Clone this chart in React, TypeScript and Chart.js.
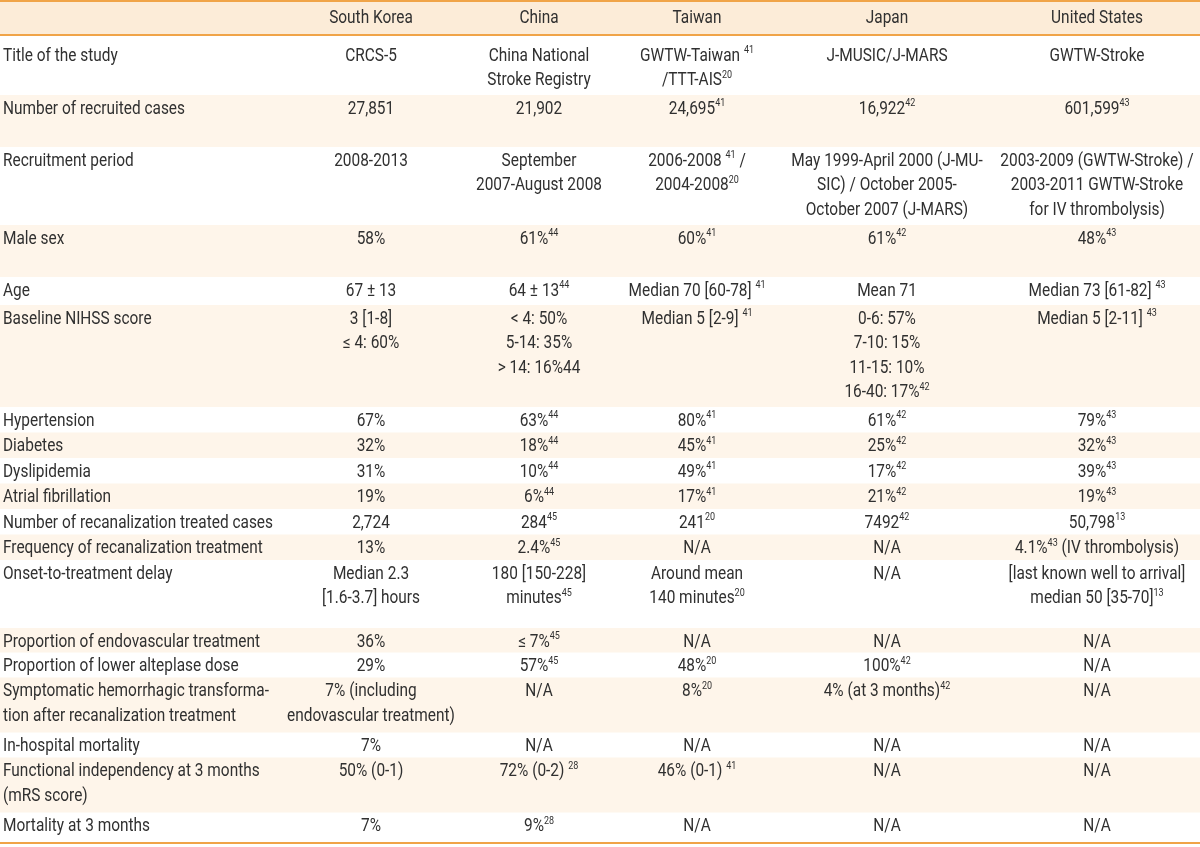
import React, { useEffect, useRef } from 'react';
import { Chart, registerables } from 'chart.js';
Chart.register(...registerables);

// ---------- DATA ----------
const countries = ['South Korea', 'China', 'Taiwan', 'Japan', 'United States'];

const rowLabels: (string | string[])[] = [
  'Title of the study',
  'Number of recruited cases',
  'Recruitment period',
  'Male sex',
  'Age',
  'Baseline NIHSS score',
  'Hypertension',
  'Diabetes',
  'Dyslipidemia',
  'Atrial fibrillation',
  'Number of recanalization treated cases',
  'Frequency of recanalization treatment',
  'Onset-to-treatment delay',
  'Proportion of endovascular treatment',
  'Proportion of lower alteplase dose',
  ['Symptomatic hemorrhagic transforma-', 'tion after recanalization treatment'],
  'In-hospital mortality',
  ['Functional independency at 3 months', '(mRS score)'],
  'Mortality at 3 months',
];

const southKorea: (string | string[])[] = [
  'CRCS-5', '27,851', '2008-2013', '58%', '67 ± 13', ['3 [1-8]', '≤ 4: 60%'],
  '67%', '32%', '31%', '19%', '2,724', '13%', ['Median 2.3', '[1.6-3.7] hours'],
  '36%', '29%', ['7% (including', 'endovascular treatment)'], '7%', '50% (0-1)', '7%',
];

const china: (string | string[])[] = [
  ['China National', 'Stroke Registry'], '21,902', ['September', '2007-August 2008'], '61%^44',
  '64 ± 13^44', ['< 4: 50%', '5-14: 35%', '> 14: 16%44'], '63%^44', '18%^44', '10%^44', '6%^44',
  '284^45', '2.4%^45', ['180 [150-228]', 'minutes^45'], '≤ 7%^45', '57%^45', 'N/A', 'N/A',
  '72% (0-2) ^28', '9%^28',
];

const taiwan: (string | string[])[] = [
  ['GWTW-Taiwan ^41', '/TTT-AIS^20'], '24,695^41', ['2006-2008 ^41 /', '2004-2008^20'], '60%^41',
  'Median 70 [60-78] ^41', 'Median 5 [2-9] ^41', '80%^41', '45%^41', '49%^41', '17%^41',
  '241^20', 'N/A', ['Around mean', '140 minutes^20'], 'N/A', '48%^20', '8%^20', 'N/A',
  '46% (0-1) ^41', 'N/A',
];

const japan: (string | string[])[] = [
  'J-MUSIC/J-MARS', '16,922^42', ['May 1999-April 2000 (J-MU-', 'SIC) / October 2005-', 'October 2007 (J-MARS)'],
  '61%^42', 'Mean 71', ['0-6: 57%', '7-10: 15%', '11-15: 10%', '16-40: 17%^42'], '61%^42', '25%^42',
  '17%^42', '21%^42', '7492^42', 'N/A', 'N/A', 'N/A', '100%^42', '4% (at 3 months)^42', 'N/A', 'N/A', 'N/A',
];

const unitedStates: (string | string[])[] = [
  'GWTW-Stroke', '601,599^43', ['2003-2009 (GWTW-Stroke) /', '2003-2011 GWTW-Stroke', 'for IV thrombolysis)'],
  '48%^43', 'Median 73 [61-82] ^43', 'Median 5 [2-11] ^43', '79%^43', '32%^43', '39%^43', '19%^43',
  '50,798^13', '4.1%^43 (IV thrombolysis)', ['[last known well to arrival]', 'median 50 [35-70]^13'],
  'N/A', 'N/A', 'N/A', 'N/A', 'N/A', 'N/A',
];

const columns = [southKorea, china, taiwan, japan, unitedStates];

// ---------- LAYOUT / STYLE ----------
const COL_WIDTHS = [278, 186, 150, 166, 214, 206];
const HEADER_HEIGHT = 35;
const ROW_HEIGHTS = [60, 52, 78, 52, 28, 102, 25.5, 25.5, 25.5, 25.5, 25.5, 25.5, 68, 24.5, 25, 55, 25, 55, 30.5];
const FIRST_ROW_PAD = 21;
const ROW_PAD = 14;
const LINE_H = 24.5;
const FONT_FAMILY = 'Roboto, "Liberation Sans", sans-serif';
const FONT_SIZE = 18;
const SUP_SIZE = 10.5;
const TEXT_COLOR = '#303030';
const HEADER_BG = '#FCECD8';
const ROW_BG = '#FEF5EA';
const RULE = '#F0A448';
const CAL_TEXT = 'Number of recruited cases';
const CAL_WIDTH = 182;

function parse(s: string) {
  const parts: { t: string; sup: boolean }[] = [];
  const re = /\^(\d+)/g;
  let last = 0;
  let m: RegExpExecArray | null;
  while ((m = re.exec(s))) {
    if (m.index > last) parts.push({ t: s.slice(last, m.index), sup: false });
    parts.push({ t: m[1], sup: true });
    last = m.index + m[0].length;
  }
  if (last < s.length) parts.push({ t: s.slice(last), sup: false });
  return parts;
}

const tablePlugin = {
  id: 'tablePlugin',
  beforeDatasetsDraw(chart: any) {
    const { ctx } = chart;
    const xs = chart.scales.x;
    const ys = chart.scales.y;
    const total = COL_WIDTHS.reduce((a, b) => a + b, 0);
    const totalH = HEADER_HEIGHT + ROW_HEIGHTS.reduce((a, b) => a + b, 0);
    const colStart: number[] = [];
    let acc = 0;
    COL_WIDTHS.forEach((w) => { colStart.push(acc); acc += w; });
    const rowStart: number[] = [];
    let ay = HEADER_HEIGHT;
    ROW_HEIGHTS.forEach((h) => { rowStart.push(ay); ay += h; });

    const mainFont = `${FONT_SIZE}px ${FONT_FAMILY}`;
    const supFont = `${SUP_SIZE}px ${FONT_FAMILY}`;
    ctx.save();
    ctx.font = mainFont;
    const sx = CAL_WIDTH / ctx.measureText(CAL_TEXT).width;

    const width = (parts: { t: string; sup: boolean }[]) => {
      let w = 0;
      for (const p of parts) {
        ctx.font = p.sup ? supFont : mainFont;
        w += ctx.measureText(p.t).width;
      }
      return w;
    };
    const drawLine = (s: string, px: number, py: number, align: 'left' | 'center') => {
      const parts = parse(s);
      const w = width(parts);
      ctx.save();
      ctx.translate(px, py);
      ctx.scale(sx, 1);
      let cx = align === 'center' ? -w / 2 : 0;
      ctx.textAlign = 'left';
      ctx.textBaseline = 'middle';
      ctx.fillStyle = TEXT_COLOR;
      for (const p of parts) {
        ctx.font = p.sup ? supFont : mainFont;
        ctx.fillText(p.t, cx, p.sup ? -5.5 : 0);
        cx += ctx.measureText(p.t).width;
      }
      ctx.restore();
    };

    // backgrounds
    const left = xs.getPixelForValue(0);
    const right = xs.getPixelForValue(total);
    ctx.fillStyle = HEADER_BG;
    ctx.fillRect(left, ys.getPixelForValue(0), right - left, ys.getPixelForValue(HEADER_HEIGHT) - ys.getPixelForValue(0));
    ROW_HEIGHTS.forEach((h, i) => {
      if (i % 2 === 1) {
        const t = ys.getPixelForValue(rowStart[i]);
        const b = ys.getPixelForValue(rowStart[i] + h);
        ctx.fillStyle = ROW_BG;
        ctx.fillRect(left, t, right - left, b - t);
      }
    });

    // header text
    countries.forEach((c, j) => {
      const cx = xs.getPixelForValue(colStart[j + 1] + COL_WIDTHS[j + 1] / 2);
      drawLine(c, cx, ys.getPixelForValue(HEADER_HEIGHT / 2 + 0.5), 'center');
    });

    // body
    rowLabels.forEach((lab, i) => {
      const pad = i === 0 ? FIRST_ROW_PAD : ROW_PAD;
      const lines = Array.isArray(lab) ? lab : [lab];
      lines.forEach((ln, k) => {
        drawLine(ln, xs.getPixelForValue(3), ys.getPixelForValue(rowStart[i] + pad + k * LINE_H), 'left');
      });
      columns.forEach((col, j) => {
        const v = col[i];
        const vl = Array.isArray(v) ? v : [v];
        const cx = xs.getPixelForValue(colStart[j + 1] + COL_WIDTHS[j + 1] / 2);
        vl.forEach((ln, k) => {
          drawLine(ln, cx, ys.getPixelForValue(rowStart[i] + pad + k * LINE_H), 'center');
        });
      });
    });

    // rules
    ctx.strokeStyle = RULE;
    ctx.lineWidth = 2;
    [1, HEADER_HEIGHT, totalH].forEach((yy) => {
      const p = ys.getPixelForValue(yy);
      ctx.beginPath();
      ctx.moveTo(left, p);
      ctx.lineTo(right, p);
      ctx.stroke();
    });
    ctx.restore();
  },
};

export default function App() {
  const ref = useRef<HTMLCanvasElement | null>(null);
  useEffect(() => {
    if (!ref.current) return;
    const total = COL_WIDTHS.reduce((a, b) => a + b, 0);
    const chart = new Chart(ref.current, {
      type: 'scatter',
      data: { datasets: [{ data: [], pointRadius: 0 }] },
      options: {
        animation: false,
        responsive: false,
        layout: { padding: 0 },
        plugins: { legend: { display: false }, tooltip: { enabled: false } },
        scales: {
          x: { type: 'linear', min: 0, max: total, display: false },
          y: { type: 'linear', min: 0, max: 847, reverse: true, display: false },
        },
      },
      plugins: [tablePlugin],
    });
    return () => chart.destroy();
  }, []);
  return (
    <div style={{ position: 'fixed', left: 0, top: 0, width: 1200, height: 847, background: '#fff' }}>
      <canvas ref={ref} width={1200} height={847} style={{ width: 1200, height: 847, display: 'block' }} />
    </div>
  );
}
